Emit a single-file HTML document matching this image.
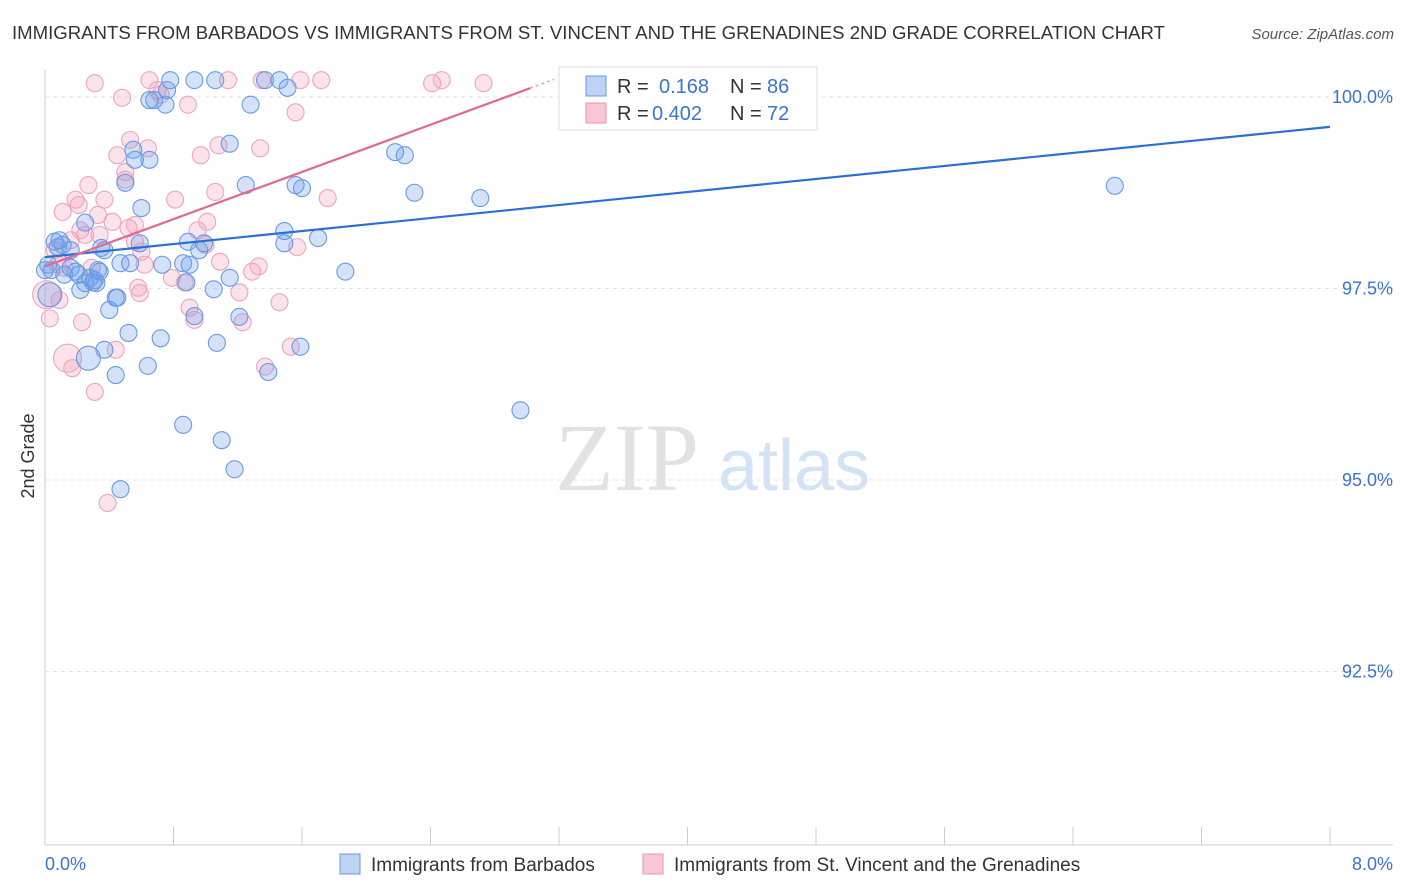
<!DOCTYPE html>
<html><head><meta charset="utf-8">
<style>
body{margin:0;background:#fff;font-family:"Liberation Sans",sans-serif;}
svg{display:block}
</style></head><body>
<svg id="chart" width="1406" height="892">
<text x="12" y="39" font-size="18" fill="#333" textLength="1153" lengthAdjust="spacingAndGlyphs">IMMIGRANTS FROM BARBADOS VS IMMIGRANTS FROM ST. VINCENT AND THE GRENADINES 2ND GRADE CORRELATION CHART</text>
<text x="1394" y="39" font-size="15" fill="#555" font-style="italic" text-anchor="end">Source: ZipAtlas.com</text>
<text x="34" y="456" font-size="18" fill="#333" transform="rotate(-90 34 456)" text-anchor="middle">2nd Grade</text>
<g id="grid"></g>
<text x="555" y="490" font-size="96" fill="#e2e2e2" font-family="Liberation Serif,serif">ZIP</text>
<text x="718" y="490" font-size="72" fill="#d3e2f5">atlas</text>
<g id="pts"></g>
<g id="lines"></g>
<g>
<rect x="559" y="67" width="258" height="63" fill="#fff" stroke="#ddd"/>
<rect x="586" y="76" width="20" height="20" fill="#bcd3f5" stroke="#6a9ae0"/>
<text x="617" y="93" font-size="20" fill="#333">R = </text><text x="659" y="93" font-size="20" fill="#3a73d0">0.168</text>
<text x="730" y="93" font-size="20" fill="#333">N = </text><text x="767" y="93" font-size="20" fill="#3a73d0">86</text>
<rect x="586" y="103" width="20" height="20" fill="#f9c6d6" stroke="#e896b3"/>
<text x="617" y="120" font-size="20" fill="#333">R = </text><text x="652" y="120" font-size="20" fill="#3a73d0">0.402</text>
<text x="730" y="120" font-size="20" fill="#333">N = </text><text x="767" y="120" font-size="20" fill="#3a73d0">72</text>
</g>
<g>
<rect x="340" y="854" width="20" height="20" fill="#bcd3f5" stroke="#6a9ae0"/>
<text x="371" y="871" font-size="19" fill="#333">Immigrants from Barbados</text>
<rect x="643" y="854" width="20" height="20" fill="#f9c6d6" stroke="#e896b3"/>
<text x="674" y="871" font-size="19" fill="#333">Immigrants from St. Vincent and the Grenadines</text>
</g>
<text x="45" y="870" font-size="18" fill="#3a73d0">0.0%</text>
<text x="1393" y="870" font-size="18" fill="#3a73d0" text-anchor="end">8.0%</text>
</svg>
<script>
const yTicks=[100,97.5,95,92.5];
const yTickLabels=["100.0%","97.5%","95.0%","92.5%"];
const blueX=[.06,.08,.02,.04,.11,.12,.16,.19,.21,.22,.25,.27,.28,.30,.31,.32,.33,.34,.35,.37,.40,.44,.45,.47,.50,.52,.53,.55,.56,.59,.60,.64,.65,.65,.68,.72,.73,.75,.76,.78,.86,.86,.88,.89,.90,.93,.96,.99,1.05,1.07,1.10,1.15,1.15,1.18,1.21,1.25,1.28,1.37,1.39,1.46,1.49,1.49,1.51,1.56,1.59,1.60,1.70,1.87,2.18,2.24,2.30,2.71,2.96,6.66,.47,.44,.03,1.06,.93,.25,.37,.09,.16,0];
const blueY=[98.11,98.04,97.81,97.74,98.07,97.68,97.77,97.72,97.68,97.48,97.57,96.59,97.64,97.58,97.61,97.57,97.74,97.72,98.03,98.00,97.22,97.38,97.38,97.83,98.88,96.92,97.83,99.31,99.18,98.09,98.55,96.49,99.18,99.96,99.96,96.85,97.81,99.90,100.09,100.22,97.83,95.72,97.58,98.11,97.81,97.14,98.00,98.09,97.49,96.79,95.52,97.64,99.39,95.14,97.13,98.85,99.90,100.22,96.41,100.22,98.25,98.09,100.12,98.85,96.74,98.81,98.16,97.72,99.28,99.24,98.75,98.68,95.91,98.84,94.88,96.37,97.42,100.22,100.22,98.36,96.70,98.13,98.00,97.74];
const blueBig=[11,76];
const pinkX=[.01,.03,.06,.08,.09,.11,.12,.14,.16,.17,.19,.21,.22,.23,.25,.27,.29,.31,.33,.34,.37,.39,.42,.44,.45,.48,.50,.50,.52,.53,.56,.56,.58,.59,.60,.62,.64,.65,.70,.72,.79,.81,.87,.89,.90,.93,.95,.97,1.00,1.01,1.06,1.08,1.09,1.14,1.21,1.23,1.29,1.33,1.34,1.35,1.37,1.46,1.53,1.56,1.57,1.59,1.72,1.76,2.41,2.47,2.73,.31];
const pinkY=[97.42,97.11,98.00,97.81,97.35,98.50,97.77,96.59,98.13,96.46,98.66,98.59,98.26,97.06,98.20,98.85,97.77,96.15,98.46,98.20,98.66,94.70,98.37,96.70,99.24,99.99,98.92,99.02,98.29,99.44,98.33,98.11,97.51,97.44,97.98,97.81,99.33,100.22,100.09,100.03,97.64,98.66,97.58,99.90,97.25,97.09,98.26,99.24,98.07,98.37,98.76,99.37,97.85,100.22,97.45,97.06,97.72,97.79,99.33,100.22,96.48,97.32,96.74,99.80,98.04,100.22,100.22,98.68,100.18,100.22,100.18,100.18];
const pinkBig=[0,7];
const blueTrend=[97.91,0.2125];
const pinkTrend=[97.79,0.77];
const NS="http://www.w3.org/2000/svg";
const X=v=>45+v*160.625;
const Y=v=>97+(100-v)*76.6;
function mk(t,a,p){const e=document.createElementNS(NS,t);for(const k in a)e.setAttribute(k,a[k]);p.appendChild(e);return e;}
const grid=document.getElementById('grid');
mk('line',{x1:45,y1:70,x2:45,y2:845,stroke:'#ccc'},grid);
mk('line',{x1:45,y1:845,x2:1393,y2:845,stroke:'#ccc'},grid);
for(let i=0;i<=10;i++){const l=mk('line',{x1:X(i*0.8),y1:827,x2:X(i*0.8),y2:845,stroke:'#ccc'},grid);

}
yTicks.forEach((t,i)=>{const l=mk('line',{x1:45,y1:Y(t),x2:1393,y2:Y(t),stroke:'#e3e3e3','stroke-dasharray':'4,4'},grid);


const tx=mk('text',{x:1393,y:Y(t)+6,'font-size':18,fill:'#3a73d0','text-anchor':'end'},grid);
tx.textContent=yTickLabels[i];

});
const pts=document.getElementById('pts');
pinkX.forEach((x,i)=>{const c=mk('circle',{cx:X(x),cy:Y(pinkY[i]),r:pinkBig.includes(i)?14:8.5,fill:'rgba(244,160,190,0.3)',stroke:'#eba5bd','stroke-width':1.1},pts);

});
blueX.forEach((x,i)=>{const c=mk('circle',{cx:X(x),cy:Y(blueY[i]),r:blueBig.includes(i)?12:8.5,fill:'rgba(110,160,235,0.3)',stroke:'#6a9ae0','stroke-width':1.1},pts);

});
const lines=document.getElementById('lines');
const bl=mk('line',{x1:X(0),y1:Y(blueTrend[0]),x2:X(8),y2:Y(blueTrend[0]+8*blueTrend[1]),stroke:'#2a6fd6','stroke-width':2.2},lines);


const pl=mk('line',{x1:X(0),y1:Y(pinkTrend[0]),x2:X(3.02),y2:Y(pinkTrend[0]+3.02*pinkTrend[1]),stroke:'#e5668f','stroke-width':2.2},lines);


const pd=mk('line',{x1:X(3.02),y1:Y(pinkTrend[0]+3.02*pinkTrend[1]),x2:X(3.17),y2:Y(pinkTrend[0]+3.17*pinkTrend[1]),stroke:'#e5a0b8','stroke-width':1.5,'stroke-dasharray':'3,3'},lines);


</script>
</body></html>
